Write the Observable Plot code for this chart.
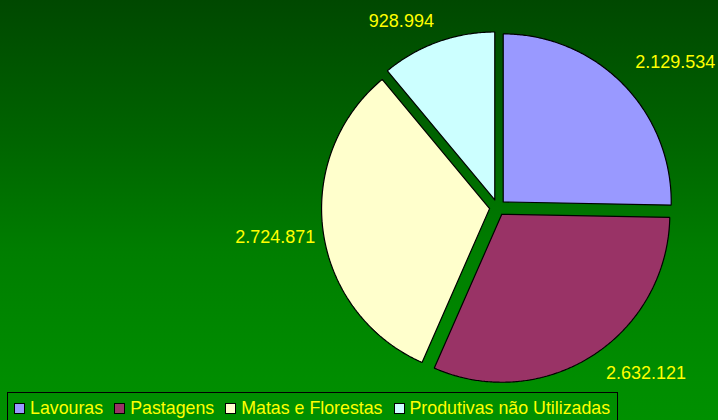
<!DOCTYPE html>
<html>
<head>
<meta charset="utf-8">
<script src="https://cdn.jsdelivr.net/npm/d3@7"></script>
<script src="https://cdn.jsdelivr.net/npm/@observablehq/plot@0.6"></script>
<style>
  html, body { margin: 0; padding: 0; }
  #page {
    width: 718px; height: 420px; overflow: hidden;
    background: linear-gradient(to bottom, #004800 0%, #006600 35%, #007e00 60%, #008d00 90%, #009000 100%);
    font-family: "Liberation Sans", Arial, sans-serif;
  }
  #chart svg { display: block; }
  #legend {
    display: inline-flex; align-items: center;
    margin: 2px 0 0 7px; height: 32px; padding: 2px 7px 2px 6px; box-sizing: border-box;
    border: 1px solid #000; border-bottom: none; color: #ffff00; font-size: 17.8px; white-space: nowrap;
  }
  .sw { display: inline-block; width: 9px; height: 9px; border: 1px solid #000; margin-right: 5px; }
  .item { display: inline-flex; align-items: center; margin-right: 11px; }
  .item:last-child { margin-right: 0; }
</style>
</head>
<body>
<div id="page">
  <div id="chart"></div>
  <div id="legend"></div>
</div>
<script>
const categories = ["Lavouras", "Pastagens", "Matas e Florestas", "Produtivas não Utilizadas"];
const values = [2129534, 2632121, 2724871, 928994];
const valueLabels = ["2.129.534", "2.632.121", "2.724.871", "928.994"];
const colors = ["#9999ff", "#993366", "#ffffcc", "#ccffff"];

// layout
const W = 718, H = 390, CX = 497, CY = 207, R = 168;
const explode = 8 / R;
const labelDist = 190 / R;

const table = categories.map((c, i) => ({key: c, value: values[i], label: valueLabels[i]}));
const arcs = d3.pie().sort(null).value(d => d.value)(table);

const pts = [];
const labels = [];
arcs.forEach(a => {
  const m = (a.startAngle + a.endAngle) / 2;
  const ox = explode * Math.sin(m), oy = explode * Math.cos(m);
  const key = a.data.key;
  pts.push({key, x: ox, y: oy});
  const n = Math.max(2, Math.ceil((a.endAngle - a.startAngle) / (Math.PI / 360)));
  for (let k = 0; k <= n; k++) {
    const t = a.startAngle + (a.endAngle - a.startAngle) * k / n;
    pts.push({key, x: ox + Math.sin(t), y: oy + Math.cos(t)});
  }
  pts.push({key, x: ox, y: oy});
  labels.push({
    label: a.data.label,
    x: labelDist * Math.sin(m),
    y: labelDist * Math.cos(m),
    right: Math.sin(m) >= 0,
    above: Math.cos(m) >= 0
  });
});

const nudge = {
  "true,true": [2, -6],
  "true,false": [6, -1],
  "false,true": [1, -2],
  "false,false": [6, -4]
};
const textMarks = [];
for (const right of [true, false]) for (const above of [true, false]) {
  const [dx, dy] = nudge[right + "," + above];
  textMarks.push(Plot.text(labels.filter(d => d.right === right && d.above === above), {
    x: "x", y: "y", text: "label", dx, dy,
    textAnchor: right ? "start" : "end",
    lineAnchor: above ? "bottom" : "top",
    fill: "#ffff00", fontSize: 18, fontFamily: "Liberation Sans, Arial, sans-serif"
  }));
}

const chart = Plot.plot({
  width: W, height: H, margin: 0,
  style: {background: "transparent", overflow: "visible"},
  x: {domain: [(0 - CX) / R, (W - CX) / R], axis: null},
  y: {domain: [(CY - H) / R, CY / R], axis: null},
  color: {domain: categories, range: colors},
  marks: [
    Plot.line(pts, {x: "x", y: "y", z: "key", fill: "key", stroke: "#000", strokeWidth: 1.2, curve: "linear", strokeLinejoin: "miter"}),
    ...textMarks
  ]
});
document.getElementById("chart").appendChild(chart);

const legend = document.getElementById("legend");
categories.forEach((c, i) => {
  const it = document.createElement("span");
  it.className = "item";
  const sw = document.createElement("span");
  sw.className = "sw";
  sw.style.background = colors[i];
  it.appendChild(sw);
  it.appendChild(document.createTextNode(c));
  legend.appendChild(it);
});
</script>
</body>
</html>
